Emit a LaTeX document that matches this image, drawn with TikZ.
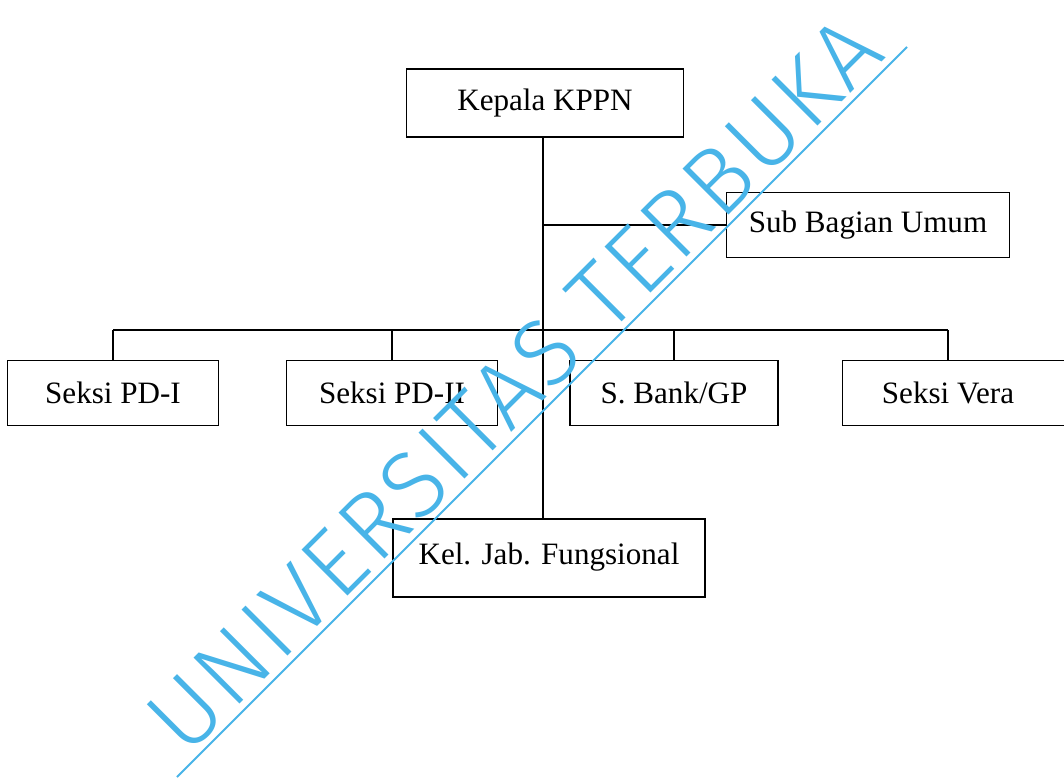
\documentclass[tikz,border=0pt]{standalone}
\usepackage{fontspec}
\setmainfont{Liberation Serif}
\newfontfamily\wmfont{Fira Sans}[UprightFont=* Light, LetterSpace=3.4]
\usepackage{tikz}
\definecolor{wmblue}{RGB}{72,180,232}

\begin{document}
\begin{tikzpicture}[x=0.02cm,y=-0.02cm,
  unit/.style={draw=black, line width=1pt, font=\fontsize{17.7}{20}\selectfont,
    minimum width=211*0.02cm, minimum height=65*0.02cm, inner sep=0pt},
  link/.style={black, line width=1pt}]

\useasboundingbox (0,0) rectangle (1064,781);
\fill[white] (0,0) rectangle (1064,781);

\node[unit, minimum width=277*0.02cm, minimum height=68*0.02cm] (kepala) at (545,103) {Kepala KPPN};
\node[unit, minimum width=283*0.02cm] (umum) at (868,225) {Sub Bagian Umum};

\node[unit] (pd1) at (113,393) {Seksi PD-I};
\node[unit] (pd2) at (392,393) {Seksi PD-II};
\node[unit, minimum width=208*0.02cm] (bank) at (674,393) {S. Bank/GP};
\node[unit, minimum width=247*0.02cm] (vera) at (966,393) {\hspace*{-0.72cm}Seksi Vera};

\node[unit, minimum width=312*0.02cm, minimum height=78*0.02cm] (kel) at (549,558) {\raisebox{8\dimexpr0.02cm\relax}{Kel. Jab. Fungsional}};

\coordinate (bus) at (543,330);

\draw[link] (kepala.south -| bus) -- (kel.north -| bus);
\draw[link] (umum.west -| bus) -- (umum.west);
\draw[link] (pd1.north |- bus) -- ([xshift=-18*0.02cm]vera.north |- bus);
\foreach \u in {pd1,pd2,bank}
  \draw[link] (\u.north |- bus) -- (\u.north);
\draw[link] ([xshift=-18*0.02cm]vera.north |- bus) -- ([xshift=-18*0.02cm]vera.north);

% watermark
\draw[wmblue, line width=1.1pt] (177,777) -- (907,47);
\node[wmblue, rotate=45, anchor=base, inner sep=0pt, font=\wmfont\fontsize{54}{60}\selectfont] (wm) at (537,407) {UNIVERSITAS TERBUKA};

\end{tikzpicture}
\end{document}
